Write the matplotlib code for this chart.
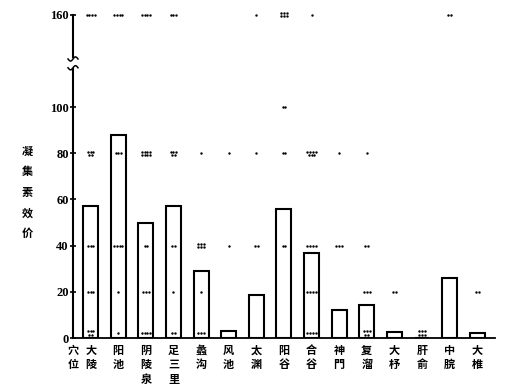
import numpy as np
import matplotlib
matplotlib.use("Agg")
import matplotlib.pyplot as plt

plt.rcParams['font.family'] = ['Noto Sans CJK SC', 'DejaVu Sans']

# ── data ────────────────────────────────────────────────────────────────
points   = ['大陵', '阳池', '阴陵泉', '足三里', '蠡沟', '风池', '太渊', '阳谷',
            '合谷', '神門', '复溜', '大杼', '肝俞', '中脘', '大椎']
bar_vals = [57, 88, 50, 57, 29, 3, 18.5, 56, 37, 12, 14.5, 2.5, 0, 26, 2]

# 每个穴位在各效价水平上的个体点数
n160 = [4, 4, 4, 3, 0, 0, 1, 6, 1, 0, 0, 0, 0, 2, 0]
n100 = [0, 0, 0, 0, 0, 0, 0, 2, 0, 0, 0, 0, 0, 0, 0]
n80  = [5, 3, 8, 5, 1, 1, 1, 2, 7, 1, 1, 0, 0, 0, 0]
n40  = [3, 4, 2, 2, 6, 1, 2, 2, 4, 3, 2, 0, 0, 0, 0]
n20  = [3, 1, 3, 1, 1, 0, 0, 0, 4, 0, 3, 2, 0, 0, 2]
nlow = [5, 1, 4, 2, 3, 0, 0, 0, 4, 0, 5, 0, 6, 0, 0]

ytick_vals   = [0, 20, 40, 60, 80, 100, 140]
ytick_labels = ['0', '20', '40', '60', '80', '100', '160']
BREAK_POS = 140          # 160 画在断轴后的位置
# ────────────────────────────────────────────────────────────────────────

x = np.arange(1, len(points) + 1)
X0, X1 = 0.36, 15.65

fig = plt.figure(figsize=(5.29, 3.85), dpi=100)
ax = fig.add_axes([0.138, 0.122, 0.798, 0.846])

ax.bar(x, bar_vals, width=0.54, facecolor='white', edgecolor='black',
       linewidth=1.5, zorder=2)


def dot_row(cx, level, n, dy=1.2):
    if n == 0:
        return [], []
    rows = [n] if n <= 4 else [int(np.ceil(n / 2)), n // 2]
    xs, ys = [], []
    for r, m in enumerate(rows):
        off = (np.arange(m) - (m - 1) / 2) * 0.1
        xs += list(cx + off)
        ys += [level + (dy / 2 if len(rows) > 1 else 0) - r * dy] * m
    return xs, ys


levels = [(n160, BREAK_POS), (n100, 100), (n80, 80), (n40, 40), (n20, 20)]
for i, cx in enumerate(x):
    for counts, lev in levels:
        xs, ys = dot_row(cx, lev, counts[i])
        ax.scatter(xs, ys, s=3, color='black', zorder=3, linewidths=0)
    # 低效价的点(接近 0)
    n = nlow[i]
    if n:
        xs, ys = dot_row(cx, 2.2, n, dy=1.8)
        ax.scatter(xs, ys, s=3, color='black', zorder=3, linewidths=0)

ax.set_xlim(X0, X1)
ax.set_ylim(0, 141)

for s in ['top', 'right', 'left']:
    ax.spines[s].set_visible(False)
ax.spines['bottom'].set_linewidth(1.3)

# 断轴的纵轴
ax.plot([X0, X0], [0, 116.5], color='black', lw=1.5, clip_on=False, zorder=4)
ax.plot([X0, X0], [121.5, 140], color='black', lw=1.5, clip_on=False, zorder=4)
t = np.linspace(-0.18, 0.18, 30)
for yb in (117.0, 120.8):
    ax.plot(X0 + t, yb + 0.9 * np.sin(t / 0.18 * np.pi), color='black',
            lw=1.1, clip_on=False, zorder=4)

ax.set_yticks(ytick_vals)
ax.set_yticklabels(ytick_labels, family='Liberation Serif', fontsize=9,
                   fontweight='bold')
ax.tick_params(axis='y', direction='inout', length=4, width=1.2, pad=1)

ax.set_xticks(np.r_[X0, x])
ax.set_xticklabels(['\n'.join('穴位')] + ['\n'.join(p) for p in points],
                   fontsize=8, fontweight='bold')
ax.tick_params(axis='x', length=0, pad=4)
for lbl in ax.get_xticklabels():
    lbl.set_linespacing(1.15)
    lbl.set_verticalalignment('top')

fig.text(27 / 529, 0.50, '\n'.join('凝集素效价'), fontsize=8, fontweight='bold',
         ha='center', va='center', linespacing=1.75)

fig.savefig('out.png', dpi=100)
